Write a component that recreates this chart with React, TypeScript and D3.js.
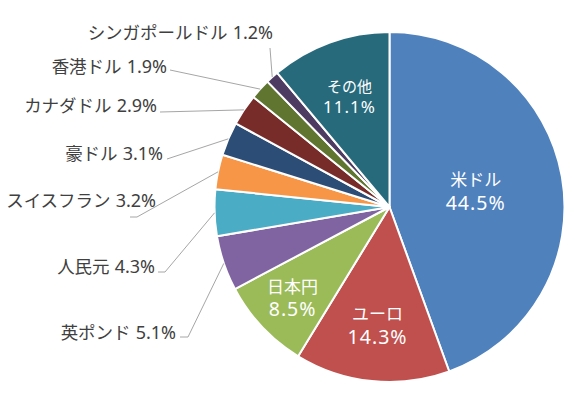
import * as d3 from 'd3';

// 通貨別シェア (%)
const currencies = ['米ドル', 'ユーロ', '日本円', '英ポンド', '人民元', 'スイスフラン', '豪ドル', 'カナダドル', '香港ドル', 'シンガポールドル', 'その他'];
const shares = [44.5, 14.3, 8.5, 5.1, 4.3, 3.2, 3.1, 2.9, 1.9, 1.2, 11.1];
const colors = ['#4f81bd', '#c0504d', '#9bbb59', '#8064a2', '#4bacc6', '#f79646', '#2c4d75', '#772c2a', '#5f7530', '#4d3b62', '#276a7c'];

const W = 575, H = 398;
const cx = 389.5, cy = 207, R = 175;

// 内側ラベル: 半径の比率・文字サイズ
const insideLabels: Record<string, { k: number; size: number; numSize: number; gap: number }> = {
  '米ドル': { k: 0.5, size: 17, numSize: 19.5, gap: 23 },
  'ユーロ': { k: 0.68, size: 17, numSize: 19.5, gap: 23 },
  '日本円': { k: 0.76, size: 17, numSize: 19.5, gap: 23 },
  'その他': { k: 0.67, size: 15, numSize: 17, gap: 21 },
};

// 外側ラベル: 文字の右端・中心y と引き出し線の折れ点
const outsideLabels: Record<string, { x: number; y: number; pts: [number, number][] }> = {
  'シンガポールドル': { x: 273, y: 33, pts: [[270, 48]] },
  '香港ドル': { x: 167, y: 67, pts: [[170, 70]] },
  'カナダドル': { x: 157, y: 106, pts: [[160, 112]] },
  '豪ドル': { x: 163, y: 154, pts: [[167, 159]] },
  'スイスフラン': { x: 156, y: 201, pts: [[130, 217], [137, 217]] },
  '人民元': { x: 155, y: 267, pts: [[158, 272], [165, 272]] },
  '英ポンド': { x: 176, y: 333, pts: [[180, 337], [188, 337]] },
};

const font = '"Noto Sans CJK JP", "Noto Sans", sans-serif';
const numFont = '"Noto Sans", sans-serif';

export default function App() {
  const data = currencies.map((name, i) => ({ name, value: shares[i], color: colors[i] }));
  const pie = d3.pie<{ name: string; value: number; color: string }>()
    .sort(null)
    .value(d => d.value);
  const arcs = pie(data);
  const arc = d3.arc<d3.PieArcDatum<{ name: string; value: number; color: string }>>()
    .innerRadius(0)
    .outerRadius(R);
  const line = d3.line();

  return (
    <svg width={W} height={H} style={{ position: 'absolute', left: 0, top: 0, background: '#fff' }}>
      <g transform={`translate(${cx},${cy})`}>
        {arcs.map(a => (
          <path key={a.data.name} d={arc(a) || ''} fill={a.data.color} stroke="#fff" strokeWidth={2} strokeLinejoin="round" />
        ))}
      </g>
      {arcs.map(a => {
        const lab = outsideLabels[a.data.name];
        if (!lab) return null;
        const edge = d3.arc<any>().innerRadius(R).outerRadius(R).centroid(a);
        const pts: [number, number][] = [...lab.pts, [cx + edge[0], cy + edge[1]]];
        return (
          <g key={'o' + a.data.name}>
            <path d={line(pts) || ''} fill="none" stroke="#a6a6a6" strokeWidth={1} />
            <text x={lab.x} y={lab.y} dy="0.35em" textAnchor="end" fontFamily={font} fontSize={17.5} fill="#404040">
              <tspan>{a.data.name}</tspan>
              <tspan dx={5} fontFamily={numFont} fontSize={18}>{`${a.data.value.toFixed(1)}%`}</tspan>
            </text>
          </g>
        );
      })}
      {arcs.map(a => {
        const lab = insideLabels[a.data.name];
        if (!lab) return null;
        const c = d3.arc<any>().innerRadius(R * lab.k).outerRadius(R * lab.k).centroid(a);
        const x = cx + c[0], y = cy + c[1];
        return (
          <g key={'i' + a.data.name}>
            <text x={x} y={y - lab.gap / 2} dy="0.35em" textAnchor="middle" fontFamily={font} fontSize={lab.size} fill="#fff">
              {a.data.name}
            </text>
            <text x={x} y={y + lab.gap / 2} dy="0.35em" textAnchor="middle" fontFamily={numFont} fontSize={lab.numSize} letterSpacing={1} fill="#fff">
              {`${a.data.value.toFixed(1)}%`}
            </text>
          </g>
        );
      })}
    </svg>
  );
}
